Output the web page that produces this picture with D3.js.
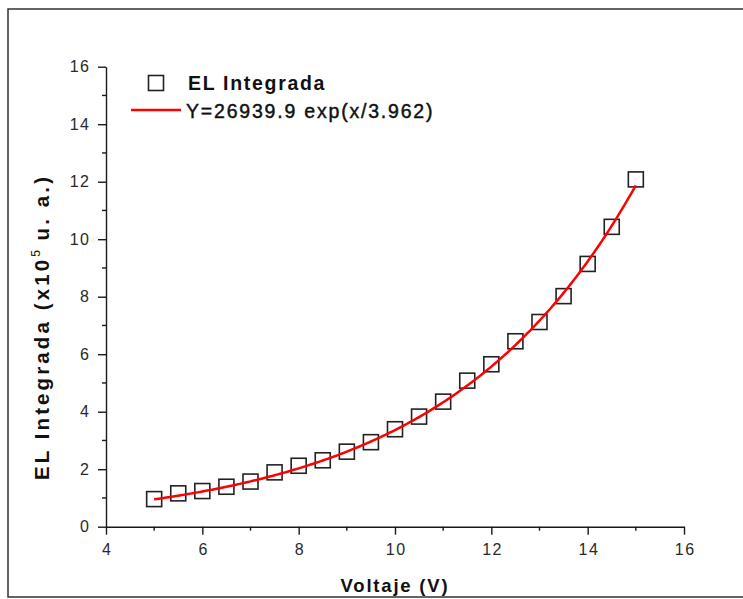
<!DOCTYPE html>
<html>
<head>
<meta charset="utf-8">
<script src="https://cdn.jsdelivr.net/npm/d3@7/dist/d3.min.js"></script>
<style>
  html, body { margin: 0; padding: 0; background: #fff; }
  svg { display: block; font-family: Arial, "Liberation Sans", sans-serif; }
</style>
</head>
<body>
<svg id="chart" width="743" height="599"></svg>
<script>
// Measured integrated electroluminescence (x10^5 a.u.) versus applied voltage (V)
const voltage = [5, 5.5, 6, 6.5, 7, 7.5, 8, 8.5, 9, 9.5, 10, 10.5, 11, 11.5, 12, 12.5, 13, 13.5, 14, 14.5, 15];
const elIntegrada = [0.96, 1.16, 1.24, 1.39, 1.57, 1.89, 2.12, 2.31, 2.61, 2.94, 3.39, 3.83, 4.35, 5.08, 5.65, 6.45, 7.12, 8.02, 9.14, 10.43, 12.08];

// Exponential fit: Y = A exp(x / t), Y in a.u.
const fitA = 26939.9;
const fitT = 3.962;
const fitRange = [5, 15];

const xTicks = [4, 6, 8, 10, 12, 14, 16];
const xMinor = [5, 7, 9, 11, 13, 15];
const yTicks = [0, 2, 4, 6, 8, 10, 12, 14, 16];
const yMinor = [1, 3, 5, 7, 9, 11, 13, 15];

const svg = d3.select("#chart");

const x = d3.scaleLinear().domain([4, 16]).range([106, 684]);
const y = d3.scaleLinear().domain([0, 16]).range([526.7, 66.7]);

const axisColor = "#1a1a1a";
const labelColor = "#2a2a2a";
const tickSpacing = 1.5;

// Outer frame (open on the right)
svg.append("path")
  .attr("d", "M743,9 H8 V597 H743")
  .attr("fill", "none")
  .attr("stroke", "#333")
  .attr("stroke-width", 1.5);

// X axis
const gx = svg.append("g").attr("transform", `translate(0,${y(0)})`);
gx.call(d3.axisBottom(x).tickValues(xTicks).tickSize(8).tickSizeOuter(0).tickPadding(9).tickFormat(d3.format("d")));
gx.append("g").selectAll("line").data(xMinor).join("line")
  .attr("x1", d => x(d)).attr("x2", d => x(d))
  .attr("y1", 0).attr("y2", 4);

// Y axis
const gy = svg.append("g").attr("transform", `translate(${x(4)},0)`);
gy.call(d3.axisLeft(y).tickValues(yTicks).tickSize(8).tickSizeOuter(0).tickPadding(9).tickFormat(d3.format("d")));
gy.append("g").selectAll("line").data(yMinor).join("line")
  .attr("y1", d => y(d)).attr("y2", d => y(d))
  .attr("x1", 0).attr("x2", -4);

for (const g of [gx, gy]) {
  g.attr("font-size", null).attr("font-family", null);
  g.select(".domain").attr("stroke", axisColor).attr("stroke-width", 1.4);
  g.selectAll("line").attr("stroke", axisColor).attr("stroke-width", 1.4);
  g.selectAll("text")
    .attr("fill", labelColor)
    .style("font-family", "Arial, 'Liberation Sans', sans-serif")
    .style("font-size", "16px")
    .style("letter-spacing", `${tickSpacing}px`);
}
// letter-spacing adds trailing space; compensate so the digits stay aligned to the ticks
gy.selectAll("text").attr("dx", `${tickSpacing}px`);
gx.selectAll("text").attr("dx", `${tickSpacing / 2}px`);

// Data markers: open squares
const sq = 15;
svg.append("g").selectAll("rect").data(voltage).join("rect")
  .attr("x", (d) => x(d) - sq / 2)
  .attr("y", (d, i) => y(elIntegrada[i]) - sq / 2)
  .attr("width", sq).attr("height", sq)
  .attr("fill", "none")
  .attr("stroke", "#222")
  .attr("stroke-width", 1.6);

// Fit curve
const fitPts = d3.range(fitRange[0], fitRange[1] + 0.001, 0.05).map(v => [v, fitA * Math.exp(v / fitT) / 1e5]);
svg.append("path")
  .datum(fitPts)
  .attr("d", d3.line().x(d => x(d[0])).y(d => y(d[1])))
  .attr("fill", "none")
  .attr("stroke", "#ff0000")
  .attr("stroke-width", 2.5);

// Legend
const leg = svg.append("g");
leg.append("rect")
  .attr("x", 148.5).attr("y", 75.5).attr("width", 15).attr("height", 15)
  .attr("fill", "none").attr("stroke", "#222").attr("stroke-width", 1.6);
leg.append("text")
  .attr("x", 188).attr("y", 89.5)
  .attr("font-size", 19.5).attr("font-weight", "bold")
  .attr("letter-spacing", "1.7px")
  .attr("fill", "#111")
  .text("EL Integrada");
leg.append("line")
  .attr("x1", 131).attr("x2", 181).attr("y1", 110).attr("y2", 110)
  .attr("stroke", "#ff0000").attr("stroke-width", 2.5);
leg.append("text")
  .attr("x", 186).attr("y", 117.5)
  .attr("font-size", 19.5)
  .attr("letter-spacing", "1.8px")
  .attr("fill", "#111")
  .attr("stroke", "#111").attr("stroke-width", 0.45)
  .text(`Y=${fitA} exp(x/${fitT})`);

// Axis titles
svg.append("text")
  .attr("x", 395).attr("y", 592)
  .attr("text-anchor", "middle")
  .attr("font-size", 18.5).attr("font-weight", "bold")
  .attr("letter-spacing", "1.8px")
  .attr("fill", "#111")
  .text("Voltaje (V)");

const yt = svg.append("text")
  .attr("transform", "translate(49,327) rotate(-90)")
  .attr("text-anchor", "middle")
  .attr("font-size", 20.5).attr("font-weight", "bold")
  .attr("letter-spacing", "3.1px")
  .attr("fill", "#111");
yt.append("tspan").text("EL Integrada (x10");
yt.append("tspan").attr("dy", -9).attr("font-size", 12).attr("font-weight", "normal").attr("letter-spacing", "1px").text("5");
yt.append("tspan").attr("dy", 9).text(" u. a.)");
</script>
</body>
</html>
